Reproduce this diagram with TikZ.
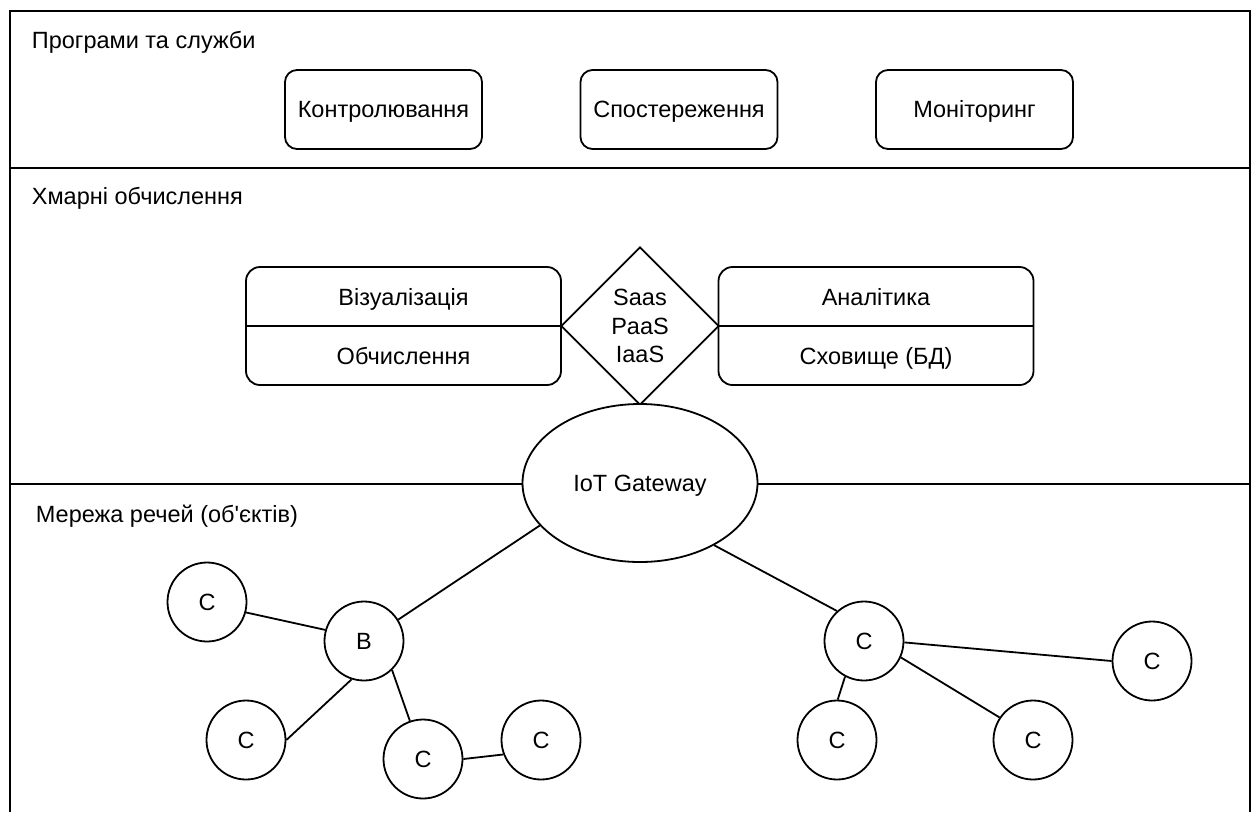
\documentclass[tikz,border=0pt]{standalone}
\usepackage{fontspec}
\setmainfont{Liberation Sans}
\usetikzlibrary{shapes.geometric}

\begin{document}
\begin{tikzpicture}[x=1pt, y=-1pt, line width=1.8pt,
  every node/.style={font=\fontsize{23.5}{28.5}\selectfont, text height=16.8pt, text depth=0pt},
  title/.style={anchor=base west, inner sep=0pt},
  svc/.style={draw, rounded corners=12pt, minimum width=197pt, minimum height=79pt},
  half/.style={draw, rounded corners=14pt, minimum width=315pt, minimum height=118pt},
  dev/.style={draw, circle, fill=white, minimum size=79pt, inner sep=0pt}]
\useasboundingbox (0,0) rectangle (1253,812);

% layers
\draw (10,812) -- (10,11) -- (1250,11) -- (1250,812);
\draw (10,168) -- (1250,168);
\coordinate (lyrL) at (10,484);
\coordinate (lyrR) at (1250,484);

\node[title] (tApps) at (31,48) {Програми та служби};
\node[title] (tCloud) at (31,204) {Хмарні обчислення};
\node[title] (tNet) at (35,522) {Мережа речей (об\textquotesingle єктів)};

% services
\node[svc] (ctrl) at (383.5,109.5) {Контролювання};
\node[svc] (obs) at (679,109.5) {Спостереження};
\node[svc] (mon) at (974.5,109.5) {Моніторинг};

% cloud
\node[half] (vis) at (403.5,326) {};
\draw (vis.west) -- (vis.east);
\node (visT) at (403.5,297) {Візуалізація};
\node (calcT) at (403.5,356) {Обчислення};

\node[half] (ana) at (876,326) {};
\draw (ana.west) -- (ana.east);
\node (anaT) at (876,297) {Аналітика};
\node (dbT) at (876,356) {Сховище (БД)};

\node[draw, diamond, minimum width=158pt, minimum height=158pt, inner sep=0pt,
  align=center, text height=73.8pt] (xaas) at (640,326) {Saas\\PaaS\\IaaS};

\draw (lyrL) -- (lyrR);
\node[draw, ellipse, fill=white, minimum width=235pt, minimum height=158pt]
  (gw) at (640,483) {IoT Gateway};

% devices
\node[dev] (c1) at (207,602) {C};
\node[dev] (b) at (364,641) {B};
\node[dev] (c2) at (246,740) {C};
\node[dev] (c3) at (423,759) {C};
\node[dev] (c4) at (541,740) {C};

\node[dev] (r) at (864,641) {C};
\node[dev] (r1) at (837,740) {C};
\node[dev] (r2) at (1033,740) {C};
\node[dev] (r3) at (1152,661) {C};

\draw (gw.203) -- (b.32);
\draw (c1.345) -- (b.164);
\draw (b.252) -- (c2.0);
\draw (b.314) -- (c3.109);
\draw (c3.0) -- (c4.201);

\draw (gw.320) -- (r.132);
\draw (r.242) -- (r1.89);
\draw (r.336) -- (r2.146);
\draw (r.358) -- (r3.180);
\end{tikzpicture}
\end{document}
